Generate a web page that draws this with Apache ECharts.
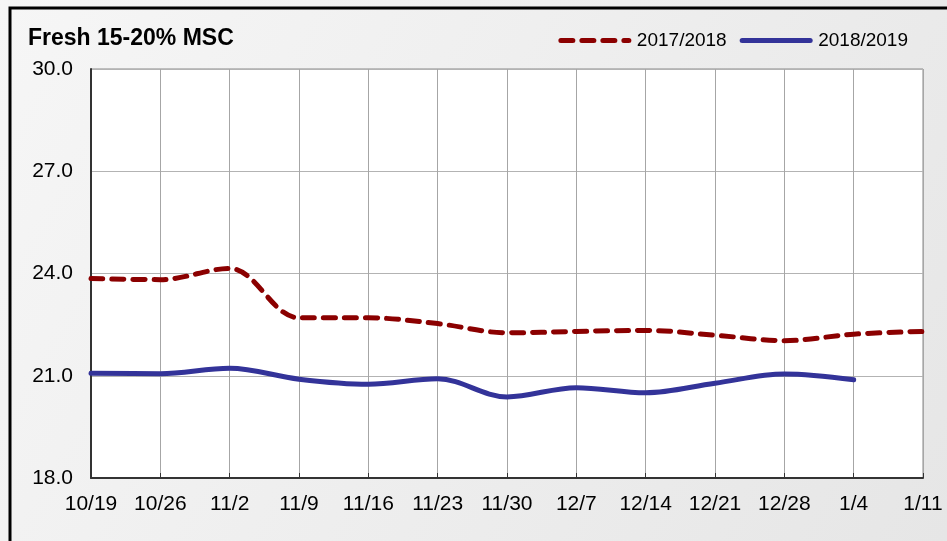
<!DOCTYPE html>
<html>
<head>
<meta charset="utf-8">
<script src="https://cdn.jsdelivr.net/npm/echarts@6/dist/echarts.min.js"></script>
<style>
  html, body { margin: 0; padding: 0; }
  #chart { width: 947px; height: 541px; }
</style>
</head>
<body>
<div id="chart"></div>
<script>
const categories = ['10/19', '10/26', '11/2', '11/9', '11/16', '11/23', '11/30', '12/7', '12/14', '12/21', '12/28', '1/4', '1/11'];
const season1718 = [23.85, 23.82, 24.15, 22.7, 22.7, 22.53, 22.26, 22.3, 22.33, 22.19, 22.03, 22.22, 22.3];
const season1819 = [21.07, 21.06, 21.22, 20.9, 20.75, 20.91, 20.38, 20.65, 20.5, 20.78, 21.05, 20.88];
const yTicks = [18, 21, 24, 27, 30];

let chartDom = document.getElementById('chart');
let myChart = echarts.init(chartDom);
let option;

option = {
  animation: false,
  backgroundColor: {
    type: 'linear', x: 0, y: 0, x2: 1, y2: 1,
    colorStops: [
      { offset: 0, color: '#f6f6f6' },
      { offset: 1, color: '#e6e6e6' },
    ],
  },
  graphic: [
    {
      type: 'rect',
      shape: { x: 10, y: 8, width: 960, height: 560 },
      style: { fill: 'none', stroke: '#000', lineWidth: 3 },
    },
  ],
  title: {
    text: 'Fresh 15-20% MSC',
    left: 23,
    top: 22,
    textStyle: {
      fontFamily: 'Liberation Sans',
      fontSize: 23,
      fontWeight: 'bold',
      color: '#000',
    },
  },
  legend: {
    right: 34,
    top: 26,
    itemWidth: 68,
    itemHeight: 12,
    itemGap: 13,
    itemStyle: { opacity: 0 },
    lineStyle: { width: 5 },
    textStyle: {
      fontFamily: 'Liberation Sans',
      fontSize: 19,
      color: '#000',
      padding: [0, 0, 0, 3],
    },
    data: ['2017/2018', '2018/2019'],
  },
  grid: {
    left: 91,
    right: 24,
    top: 69,
    bottom: 63,
    show: true,
    backgroundColor: '#fff',
    borderColor: '#888',
    borderWidth: 1,
  },
  xAxis: {
    type: 'category',
    data: categories,
    boundaryGap: false,
    axisLine: { lineStyle: { color: '#333', width: 2 } },
    axisTick: { show: true, length: 5, inside: true, lineStyle: { color: '#333' } },
    axisLabel: {
      interval: 0,
      margin: 16,
      fontFamily: 'Liberation Sans',
      fontSize: 21,
      color: '#000',
    },
    splitLine: { show: true, lineStyle: { color: '#a6a6a6', width: 1 } },
  },
  yAxis: {
    type: 'value',
    min: yTicks[0],
    max: yTicks[yTicks.length - 1],
    interval: 3,
    axisLine: { show: true, lineStyle: { color: '#333', width: 2 } },
    axisTick: { show: false },
    axisLabel: {
      margin: 18,
      fontFamily: 'Liberation Sans',
      fontSize: 21,
      color: '#000',
      formatter: (v) => v.toFixed(1),
    },
    splitLine: { show: true, lineStyle: { color: '#b3b3b3', width: 1 } },
  },
  series: [
    {
      name: '2017/2018',
      type: 'line',
      data: season1718,
      smooth: 0.35,
      symbol: 'none',
      lineStyle: { color: '#8b0000', width: 5, type: [12, 9], cap: 'round' },
      itemStyle: { color: '#8b0000' },
    },
    {
      name: '2018/2019',
      type: 'line',
      data: season1819,
      smooth: 0.35,
      symbol: 'none',
      lineStyle: { color: '#333399', width: 5, cap: 'round' },
      itemStyle: { color: '#333399' },
    },
  ],
};

option && myChart.setOption(option);
</script>
</body>
</html>
